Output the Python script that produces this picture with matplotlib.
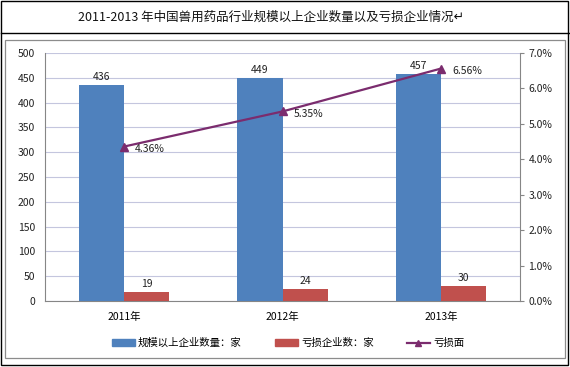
import matplotlib
matplotlib.use("Agg")
import matplotlib.pyplot as plt
from matplotlib.patches import Rectangle
from matplotlib.lines import Line2D
import numpy as np

plt.rcParams['font.family'] = ['Noto Sans CJK SC', 'DejaVu Sans']

title = "2011-2013 年中国兽用药品行业规模以上企业数量以及亏损企业情况"
years = ["2011年", "2012年", "2013年"]
big_companies = [436, 449, 457]
loss_companies = [19, 24, 30]
loss_rate = [4.36, 5.35, 6.56]
series_names = ["规模以上企业数量：家", "亏损企业数：家", "亏损面"]

W, H = 570, 367
fig = plt.figure(figsize=(W / 100, H / 100), dpi=100)

def fx(px):
    return px / W

def fy(py):
    return 1 - py / H

# outer frame and title separator
fig.patches.append(Rectangle((fx(1), fy(365)), fx(568) - fx(1), fy(1) - fy(365),
                             transform=fig.transFigure, fill=False, edgecolor='black', lw=1.0))
fig.lines.append(Line2D([fx(1), fx(569)], [fy(33), fy(33)], transform=fig.transFigure,
                        color='black', lw=1.0))
# chart border
fig.patches.append(Rectangle((fx(5), fy(358)), fx(565) - fx(5), fy(40) - fy(358),
                             transform=fig.transFigure, fill=False, edgecolor='#8c8c8c', lw=0.9))
fig.text(fx(271), fy(17), title + "↵", ha='center', va='center', fontsize=9, color='#111111')

left, right, top, bottom = 45, 520, 53, 301
ax = fig.add_axes([fx(left), fy(bottom), fx(right) - fx(left), fy(top) - fy(bottom)])
x = np.arange(len(years))
bw = 0.285
ax.bar(x - bw / 2, big_companies, bw, color='#4F81BD', zorder=3)
ax.bar(x + bw / 2, loss_companies, bw, color='#C0504D', zorder=3)
ax.set_xlim(-0.5, 2.5)
ax.set_ylim(0, 500)
ax.set_yticks(np.arange(0, 501, 50))
ax.yaxis.grid(True, color='#c4c6de', lw=0.8, zorder=0)
ax.set_xticks(x)
ax.set_xticklabels(years, fontsize=7.5)
ax.tick_params(axis='x', length=0, pad=8)
ax.tick_params(axis='y', length=0, labelsize=7.5, pad=7, colors='#222222')
for s in ['top', 'right']:
    ax.spines[s].set_visible(False)
ax.spines['left'].set_color('#868686')
ax.spines['bottom'].set_color('#868686')

for xi, v in zip(x, big_companies):
    ax.text(xi - bw / 2, v + 6, str(v), ha='center', va='bottom', fontsize=7.5, color='#222222')
for xi, v in zip(x, loss_companies):
    ax.text(xi + bw / 2, v + 6, str(v), ha='center', va='bottom', fontsize=7.5, color='#222222')

ax2 = ax.twinx()
ax2.set_ylim(0, 7)
ax2.set_yticks(np.arange(0, 7.01, 1))
ax2.set_yticklabels([f"{v:.1f}%" for v in np.arange(0, 7.01, 1)], fontsize=7.5, color='#222222')
ax2.tick_params(axis='y', direction='out', length=3, color='#868686', pad=3)
for s in ['top', 'left', 'bottom']:
    ax2.spines[s].set_visible(False)
ax2.spines['right'].set_color('#868686')
ax2.plot(x, loss_rate, color='#7B2C6E', lw=1.6, marker='^', markersize=6,
         markerfacecolor='#7B2C6E', markeredgecolor='#7B2C6E', zorder=5)
for xi, v in zip(x, loss_rate):
    ax2.text(xi + 0.07, v - 0.08, f"{v:.2f}%", ha='left', va='center', fontsize=7.5, color='#222222')

handles = [
    Rectangle((0, 0), 1, 1, color='#4F81BD'),
    Rectangle((0, 0), 1, 1, color='#C0504D'),
    Line2D([], [], color='#7B2C6E', lw=1.6, marker='^', markersize=5),
]
fig.legend(handles, series_names, loc='center', bbox_to_anchor=(fx(288), fy(343)), ncol=3,
           frameon=False, fontsize=7.5, handlelength=2.2, handleheight=0.6,
           columnspacing=3.2, handletextpad=0.3)

fig.savefig("out.png", dpi=100)
